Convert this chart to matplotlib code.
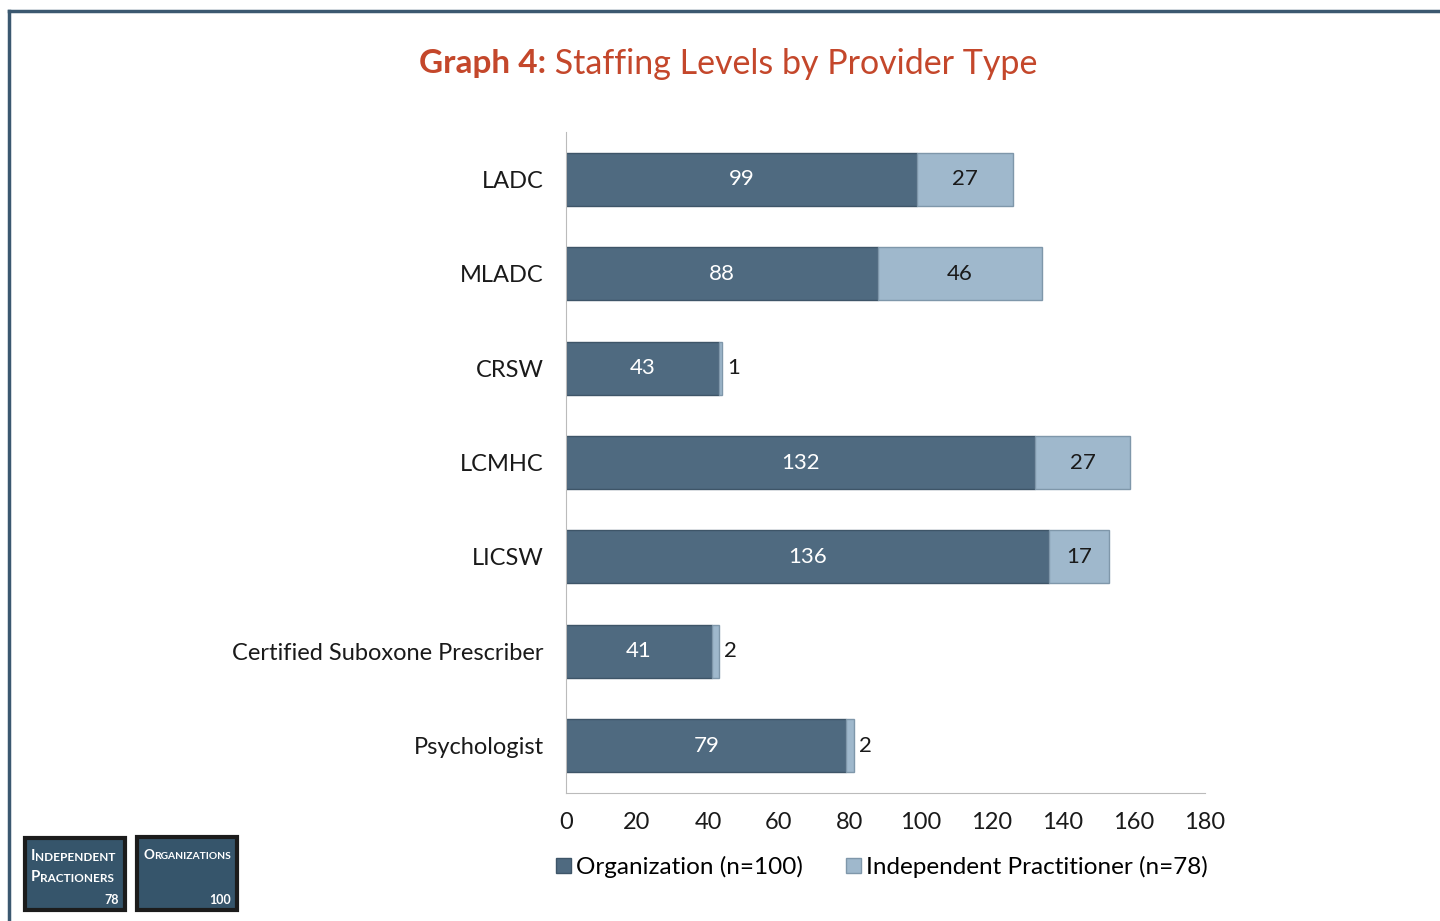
import numpy as np
import matplotlib
matplotlib.use("Agg")
import matplotlib.pyplot as plt
from matplotlib.patches import Rectangle
from matplotlib.lines import Line2D
from matplotlib.text import Annotation

plt.rcParams['font.family'] = ['Lato', 'DejaVu Sans']

# data
categories = ["LADC", "MLADC", "CRSW", "LCMHC", "LICSW",
              "Certified Suboxone Prescriber", "Psychologist"]
org = [99, 88, 43, 132, 136, 41, 79]
indep = [27, 46, 1, 27, 17, 2, 2]
xticks = [0, 20, 40, 60, 80, 100, 120, 140, 160, 180]
org_label = "Organization (n=100)"
indep_label = "Independent Practitioner (n=78)"

dark = "#4f6a80"
light = "#9fb8cc"
title_col = "#c4472b"

fig = plt.figure(figsize=(14.4, 9.21), dpi=100)

# frame lines (top and left)
fig.add_artist(Line2D([9/1440, 9/1440], [0, 1 - 11/921], color="#3b5870", lw=2.5))
fig.add_artist(Line2D([9/1440, 1], [1 - 11/921, 1 - 11/921], color="#3b5870", lw=2.5))

ax = fig.add_axes([566/1440, 1 - 793/921, 639/1440, 661/921])
y = np.arange(len(categories))
h = 0.56
ax.barh(y, org, height=h, color=dark, edgecolor="#3e5568", linewidth=1)
ax.barh(y, indep, left=org, height=h, color=light, edgecolor="#7f97aa", linewidth=1)

for i in range(len(categories)):
    ax.text(org[i] / 2, y[i], str(org[i]), ha="center", va="center",
            color="white", fontsize=16)
    if indep[i] >= 10:
        ax.text(org[i] + indep[i] / 2, y[i], str(indep[i]), ha="center",
                va="center", color="#1a1a1a", fontsize=16)
    else:
        ax.text(org[i] + indep[i] + 1.5, y[i], str(indep[i]), ha="left",
                va="center", color="#1a1a1a", fontsize=16)

ax.set_xlim(0, 180)
ax.set_ylim(len(categories) - 0.5, -0.5)
ax.set_xticks(xticks)
ax.set_yticks(y)
ax.set_yticklabels(categories)
ax.tick_params(axis="both", length=0, labelsize=17, colors="#1a1a1a")
ax.tick_params(axis="x", pad=14)
ax.tick_params(axis="y", pad=16)
for s in ["top", "right"]:
    ax.spines[s].set_visible(False)
for s in ["left", "bottom"]:
    ax.spines[s].set_color("#bbbbbb")

# legend
handles = [Rectangle((0, 0), 1, 1, facecolor=dark, edgecolor="#3e5568"),
           Rectangle((0, 0), 1, 1, facecolor=light, edgecolor="#7f97aa")]
fig.legend(handles, [org_label, indep_label], loc="center",
           bbox_to_anchor=(882/1440, 1 - 867/921), ncol=2, frameon=False,
           fontsize=17.5, handlelength=0.6, handleheight=0.6,
           handletextpad=0.2, columnspacing=1.8)

# title
t1 = fig.text(419/1440, 1 - 64/921, "Graph 4:", color=title_col, fontsize=24,
              fontweight="bold", va="center", ha="left")
fig.add_artist(Annotation(" Staffing Levels by Provider Type", xy=(1, 0.5),
                          xycoords=t1, va="center", ha="left",
                          color=title_col, fontsize=24.5))

# badges
def badge(x0, y0, w, hgt, lines, num, small):
    fig.add_artist(Rectangle((x0/1440, 1 - (y0 + hgt)/921), w/1440, hgt/921,
                             facecolor="#36556b", edgecolor="#1c1c1c", lw=3))
    ty = y0 + 22
    for word in lines:
        a = fig.text((x0 + 6)/1440, 1 - ty/921, word[0], color="white",
                     fontsize=small + 2.3, fontweight="bold", va="baseline", zorder=5)
        fig.add_artist(Annotation(word[1:], xy=(1, 0), xycoords=a,
                                  va="bottom", ha="left", color="white",
                                  fontsize=small, fontweight="bold", zorder=5))
        ty += 21
    fig.text((x0 + w - 6)/1440, 1 - (y0 + hgt - 6)/921, num, color="white",
             fontsize=9, fontweight="bold", ha="right", va="baseline", zorder=5)

badge(25, 838, 100, 72, ["INDEPENDENT", "PRACTIONERS"], "78", 8.5)
badge(137, 837, 100, 73, ["ORGANIZATIONS"], "100", 7.4)

fig.savefig("out.png", dpi=100)
